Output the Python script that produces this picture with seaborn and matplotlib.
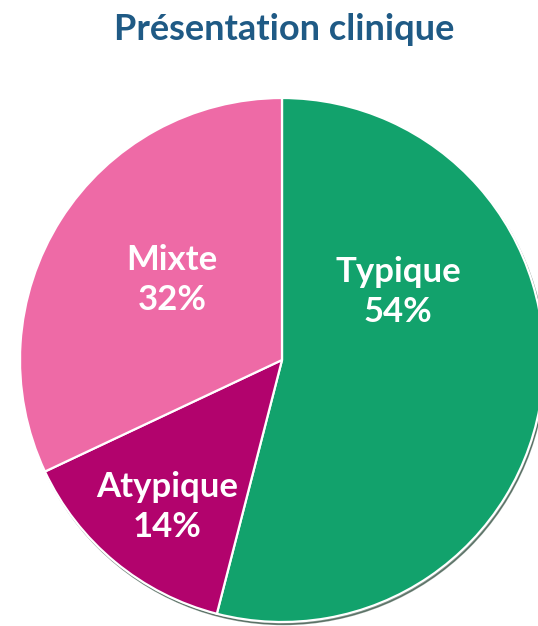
import matplotlib
matplotlib.use("Agg")
import matplotlib.pyplot as plt
import seaborn as sns

# Clinical presentation breakdown
categories = ["Typique", "Atypique", "Mixte"]
percentages = [54, 14, 32]
colors = ["#12A26C", "#B2036D", "#EE6AA6"]
title = "Présentation clinique"

sns.set_theme(style="white")
plt.rcParams["font.family"] = ["Lato", "DejaVu Sans"]

W, H = 538, 626
fig = plt.figure(figsize=(W / 100, H / 100), dpi=100)
ax = fig.add_axes([0, 0, 1, 1])

cx, cy, r = 282, 266, 262

# thin shadow along the lower-right rim
shadow = plt.Circle((cx + 1.5, cy - 2.5), r, color="#1a3a2a", alpha=0.55, zorder=1)
ax.add_patch(shadow)

wedges, _ = ax.pie(
    percentages,
    colors=colors,
    startangle=90,
    counterclock=False,
    center=(cx, cy),
    radius=r,
    frame=True,
    wedgeprops=dict(edgecolor="white", linewidth=1.6, zorder=2),
)
ax.set_xlim(0, W)
ax.set_ylim(0, H)
ax.set_aspect("equal")
ax.axis("off")

# label offsets from the pie centre
offsets = {"Typique": (116, 68), "Atypique": (-115, -147), "Mixte": (-110, 80)}
for name, pct in zip(categories, percentages):
    dx, dy = offsets[name]
    ax.text(cx + dx, cy + dy, f"{name}\n{pct}%", ha="center", va="center",
            color="white", fontsize=25, fontweight="bold", linespacing=1.3,
            zorder=5)

fig.text(284 / W, 1 - 29 / H, title, ha="center", va="center",
         color="#1F5A85", fontsize=26, fontweight="bold")

fig.savefig("out.png", dpi=100, facecolor="white")
